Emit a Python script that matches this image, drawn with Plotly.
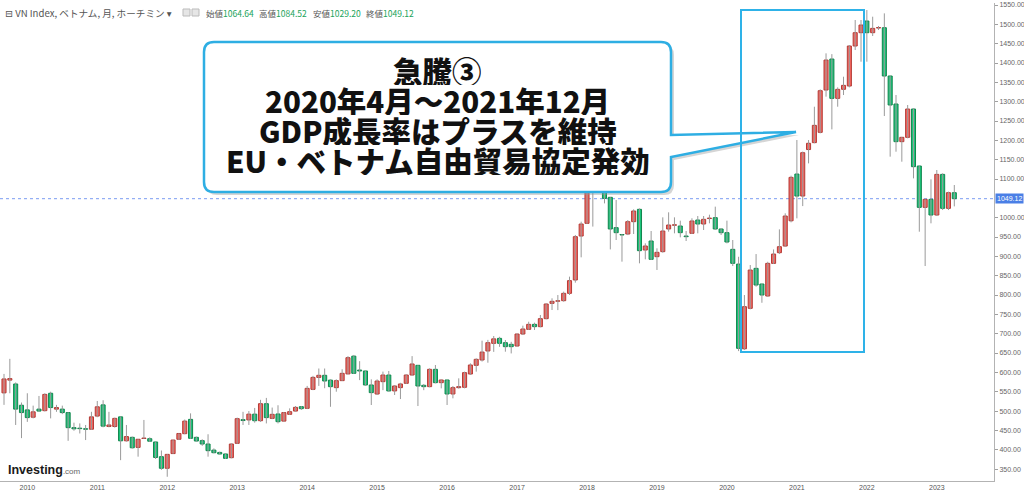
import pandas as pd
import plotly.graph_objects as go

# ---------------- data (VN Index, monthly) ----------------
months = pd.period_range("2009-09", "2023-04", freq="M").strftime("%Y-%m").tolist()

opens = [
    547, 580, 570, 515,
    503, 484, 505, 501, 546, 505, 505, 496, 457, 455.5, 453.5, 453,
    487, 516, 460, 460, 485, 423, 432, 406, 429, 428.5, 420, 382,
    352, 390, 427, 441.5, 478.5, 432, 423.5, 414.7, 399, 393, 389, 379.4,
    416.5, 477.7, 477, 492, 475, 519, 481, 492.4, 474, 491.5, 500, 511.3,
    507, 556, 587, 592.4, 580, 560.5, 578.6, 596, 642, 606, 603.6, 567.4,
    544, 576, 593.2, 552, 560.5, 571.7, 593.2, 618.2, 566.5, 563.1, 607.9, 573.4,
    580.3, 544.1, 560.5, 561.4, 595.8, 618.2, 632, 655.3, 675, 688, 676.8, 672.5,
    668.2, 699.2, 711.3, 724.2, 718.2, 738.9, 778.5, 784, 785.4, 804.4, 838.9, 952.6,
    985.4, 1110, 1121, 1174, 1052.7, 974.2, 956, 957.8, 989.7, 1021.6, 916.4, 939.7,
    899.2, 912.2, 970.8, 980.5, 978.5, 952.6, 959.6, 994, 983.7, 997.8, 1000.1, 970.8,
    961.3, 918.2, 880, 661, 765.6, 869, 828.5, 797.5, 881.9, 909.5, 926.7, 992,
    1112.9, 1056, 1176.2, 1194.1, 1220.7, 1330.2, 1410.3, 1308.6, 1332, 1340.5, 1444, 1478.4,
    1508.6, 1478.4, 1490.5, 1491.3, 1366.4, 1294, 1196.6, 1207.8, 1281, 1133.6, 1026.7, 1047.4,
    1006.9, 1112, 1024.2, 1064.64,
]
highs = [
    596, 635, 574, 522,
    546, 514, 539, 546, 550, 516, 514, 497, 470, 468, 464, 498,
    526, 528, 498, 483, 486, 464, 434, 427, 477, 432, 420.5, 398,
    389, 426, 442.5, 478, 494, 434, 427, 440, 403.5, 395, 390.5, 416.5,
    483, 498, 500, 508, 529, 534, 509, 515, 497.5, 507, 513, 513,
    565, 591, 610, 610, 582, 582, 608, 642, 645, 629, 604, 582,
    582, 602, 603.6, 567, 573, 595, 642, 618.5, 570, 610.5, 619, 582,
    581, 564.8, 584.6, 601.9, 623.4, 636.3, 682, 684, 694, 692, 683.7, 679,
    701, 720.8, 731, 728.5, 748.4, 778.5, 791.5, 800, 808.7, 847.5, 955.3, 989.7,
    1110, 1146, 1180, 1204, 1053, 1045.8, 958, 994, 1021.6, 1024, 933.7, 965.6,
    920.8, 1000.9, 1013.9, 1000.9, 992.3, 965.6, 998.4, 1004.3, 1004.3, 1007.8, 1028.5, 972.5,
    992.3, 942.3, 899, 800, 877.6, 906, 829, 886, 918, 969.8, 1011.3, 1108.6,
    1200.9, 1171, 1200.9, 1287, 1331.9, 1425, 1423, 1337, 1364.6, 1446.5, 1511.2, 1511.2,
    1537, 1519.8, 1495.7, 1528.4, 1367, 1317.3, 1209, 1291.4, 1282.7, 1134, 1048, 1099.2,
    1123.3, 1114.7, 1067.3, 1084.52,
]
lows = [
    516, 546, 464, 430,
    472, 481, 499, 499, 481, 498, 492, 423, 449, 442, 425, 451,
    484, 458, 458, 457, 373, 421, 403, 382, 428, 420, 376, 348,
    330, 389, 425, 440, 428, 421, 410, 382, 390.5, 388, 376, 377.7,
    415, 464, 464, 470, 472, 468, 479, 468, 472.5, 490, 498.4, 503,
    505, 554, 565, 559, 511, 550, 578, 595, 596, 580, 565, 515.6,
    541.5, 554, 550, 541.5, 531, 570, 591.5, 513, 554, 561.4, 571.7, 558.7,
    515.6, 532.9, 557.9, 558.7, 593.2, 601.9, 628, 625, 653, 666, 653.5, 649,
    666.5, 696.6, 709.6, 709.6, 716.5, 737.2, 761.3, 761, 782.8, 800.1, 832, 897.5,
    984, 977, 1100, 1037, 918, 942.3, 886.3, 955, 957.8, 882, 892.3, 890.6,
    864.8, 909.5, 963.9, 959.6, 949.2, 939.7, 957.8, 959.6, 968.2, 985.4, 968.2, 955.3,
    933.7, 875, 655, 657.8, 763, 821.6, 780, 795.7, 880.2, 906, 925, 988,
    998.3, 1030, 1140.5, 1192.4, 1218.1, 1313, 1228.4, 1287, 1317.2, 1337, 1433.6, 1403.4,
    1403.4, 1469.8, 1485.3, 1262.9, 1157.8, 1170.7, 1144.8, 1205.2, 1101.7, 963.8, 875, 985.4,
    1004.3, 1019.8, 1019.8, 1029.20,
]
closes = [
    583, 584, 505, 496,
    483, 498, 500, 543, 509, 509, 496, 457, 454, 454.5, 453, 485,
    511, 461, 464, 481, 423, 434, 405, 427, 430, 422, 380, 352,
    388, 425, 442, 474, 429.5, 422.5, 414.7, 397.5, 392.3, 389, 377.7, 414.7,
    480.3, 475.5, 492, 475, 519, 483, 491.5, 472.5, 496, 498.4, 509.6, 506.2,
    558.7, 587, 592.4, 577.7, 563, 578.6, 597.5, 638, 597.5, 603.6, 567.4, 547.6,
    577.7, 593.2, 552, 564.8, 570, 593.2, 621.7, 564.8, 563.1, 607.9, 573.4, 580.3,
    544.1, 560.5, 563.1, 599.3, 619.1, 633.7, 652.5, 676.8, 686.7, 675.1, 666.5, 666.5,
    699.2, 712.2, 724.2, 718.2, 738.9, 776.8, 783.7, 785, 804.4, 837.2, 950.9, 983.6,
    1110, 1121, 1174, 1050, 970.8, 961.3, 955.3, 989.7, 1017.3, 914.7, 926.8, 892.3,
    910.4, 965.6, 981.1, 981.5, 961.3, 950.9, 991.5, 983.7, 995.8, 998.4, 970.8, 961.3,
    937.1, 882, 662.2, 769.9, 864.7, 825.9, 800.1, 881.9, 906, 925, 1004.3, 1104.3,
    1056, 1168.1, 1192.4, 1238.8, 1328.4, 1407.7, 1308.6, 1331.9, 1342.2, 1444, 1478.4, 1498.2,
    1478.4, 1489.6, 1491.3, 1366.4, 1291.4, 1196.6, 1207.8, 1281, 1131.9, 1026.7, 1047.4, 1006.9,
    1112, 1024.2, 1064.7, 1049.12,
]

year_labels = [str(y) for y in range(2010, 2024)]
last_price = 1049.12
# the current-price badge replaces the 1050 tick, as in the reference
price_ticks = [t for t in range(350, 1551, 50) if abs(t - last_price) > 20]

header_name = "⊟ VN Index, ベトナム, 月, ホーチミン ▾"
header_fields = [("始値", "1064.64"), ("高値", "1084.52"), ("安値", "1029.20"), ("終値", "1049.12")]
callout_lines = ["急騰③", "2020年4月～2021年12月", "GDP成長率はプラスを維持", "EU・ベトナム自由貿易協定発効"]

# ---------------- layout geometry ----------------
W, H = 1024, 497
PL, PR, PT, PB = 0, 994, 3, 481          # plot area in pixels
XR = [-0.686, 169.81]
YR = [319.1, 1555.2]

def px_x(p):
    return XR[0] + (p - PL) / (PR - PL) * (XR[1] - XR[0])

def py_y(p):
    return YR[1] - (p - PT) / (PB - PT) * (YR[1] - YR[0])

def ppx(p):
    return (p - PL) / (PR - PL)

def ppy(p):
    return (PB - p) / (PB - PT)

idx = list(range(len(months)))
tickvals = [i for i, m in enumerate(months) if m.endswith("-01")]

UP_FILL, UP_LINE = "#f2655f", "#b33b36"
DN_FILL, DN_LINE = "#1cc47a", "#10864d"

fills, edges, bases, sizes = [], [], [], []
for o, c in zip(opens, closes):
    up = c >= o
    fills.append(UP_FILL if up else DN_FILL)
    edges.append(UP_LINE if up else DN_LINE)
    bases.append(min(o, c))
    sizes.append(max(abs(c - o), 1.2))

wx, wy = [], []
for i, lo, hi in zip(idx, lows, highs):
    wx += [i, i, None]
    wy += [lo, hi, None]

fig = go.Figure()
fig.add_trace(go.Scatter(x=wx, y=wy, mode="lines", line=dict(color="#9a9a9a", width=1),
                         hoverinfo="skip", showlegend=False))
fig.add_trace(go.Bar(x=idx, base=bases, y=sizes, width=0.7,
                     marker=dict(color=fills, line=dict(color=edges, width=1)),
                     showlegend=False, hoverinfo="skip"))

shapes = []
shapes.append(dict(type="line", xref="paper", yref="y", x0=0, x1=1, y0=last_price, y1=last_price,
                   line=dict(color="#7b9cf2", width=1, dash="dot"), layer="below"))

def P(px, py):
    return f"{px_x(px):.4f},{py_y(py):.3f}"

def bubble(dx=0, dy=0):
    l, r, t, b, rr = 204 + dx, 671 + dx, 42 + dy, 192 + dy, 10
    return (f"M {P(l+rr,t)} L {P(r-rr,t)} Q {P(r,t)} {P(r,t+rr)} L {P(r,135+dy)} "
            f"L {P(796+dx,132+dy)} L {P(r,157+dy)} L {P(r,b-rr)} Q {P(r,b)} {P(r-rr,b)} "
            f"L {P(l+rr,b)} Q {P(l,b)} {P(l,b-rr)} L {P(l,t+rr)} Q {P(l,t)} {P(l+rr,t)} Z")

shapes.append(dict(type="path", xref="x", yref="y", path=bubble(3, 3),
                   fillcolor="rgba(150,150,150,0.40)", line=dict(width=0), layer="above"))
shapes.append(dict(type="path", xref="x", yref="y", path=bubble(),
                   fillcolor="white", line=dict(color="#2eaee3", width=2.5), layer="above"))

shapes.append(dict(type="rect", xref="x", yref="y", x0=px_x(741), x1=px_x(864),
                   y0=py_y(352), y1=py_y(10), line=dict(color="#2eb2e8", width=2),
                   fillcolor="rgba(0,0,0,0)", layer="above"))

for x0 in (183, 192):
    shapes.append(dict(type="rect", xref="paper", yref="paper", x0=ppx(x0), x1=ppx(x0 + 7),
                       y0=ppy(16), y1=ppy(9), line=dict(color="#bbbbbb", width=1),
                       fillcolor="#e6e6e6", layer="above"))

annotations = []
for line_text, cy in zip(callout_lines, [70, 100, 130, 160]):
    annotations.append(dict(x=px_x(437.5), y=py_y(cy), xref="x", yref="y", text=line_text,
                            showarrow=False, xanchor="center", yanchor="middle",
                            height=30, valign="middle",
                            font=dict(family="Noto Sans CJK JP", size=29.5, color="#111111", weight=900)))

annotations.append(dict(x=ppx(3), y=ppy(12.5), xref="paper", yref="paper", text=header_name,
                        showarrow=False, xanchor="left", yanchor="middle",
                        font=dict(family="Noto Sans CJK JP, DejaVu Sans", size=9.6, color="#555555")))
for (lab, val), x0 in zip(header_fields, [204, 257, 311, 364]):
    annotations.append(dict(x=ppx(x0), y=ppy(12.5), xref="paper", yref="paper",
                            text=f"{lab}<span style='color:#21a35a'>{val}</span>",
                            showarrow=False, xanchor="left", yanchor="middle",
                            font=dict(family="Noto Sans CJK JP, Liberation Sans", size=8.5, color="#555555")))

annotations.append(dict(x=1, y=last_price, xref="paper", yref="y", text=f"{last_price:.2f}",
                        showarrow=False, xanchor="left", yanchor="middle", xshift=1,
                        bgcolor="#4a7fe6", borderpad=1,
                        font=dict(family="Liberation Sans", size=7, color="white")))

annotations.append(dict(x=ppx(6), y=ppy(470), xref="paper", yref="paper",
                        text="<b>Investing</b><span style='font-size:8px;color:#666666'>.com</span>",
                        showarrow=False, xanchor="left", yanchor="middle",
                        font=dict(family="Liberation Sans", size=12.5, color="#1a1a1a")))

fig.update_layout(
    width=W, height=H,
    margin=dict(l=PL, r=W - PR, t=PT, b=H - PB, pad=0),
    plot_bgcolor="white", paper_bgcolor="white",
    barmode="overlay", showlegend=False,
    shapes=shapes, annotations=annotations,
    xaxis=dict(range=XR, tickmode="array", tickvals=tickvals, ticktext=year_labels,
               showgrid=False, zeroline=False, showline=True, linecolor="#b3b3b3", linewidth=1,
               ticks="", tickfont=dict(family="Liberation Sans", size=7, color="#555555"),
               fixedrange=True),
    yaxis=dict(range=YR, side="right", tickmode="array", tickvals=price_ticks, tickformat=".2f",
               showgrid=False, zeroline=False, showline=True, linecolor="#b3b3b3", linewidth=1,
               ticks="outside", ticklen=3, tickcolor="#a0a0a0",
               tickfont=dict(family="Liberation Sans", size=7, color="#666666"),
               fixedrange=True),
)

fig.write_html("out.html", post_script="document.body.style.margin='0';",
               config={"displayModeBar": False})
